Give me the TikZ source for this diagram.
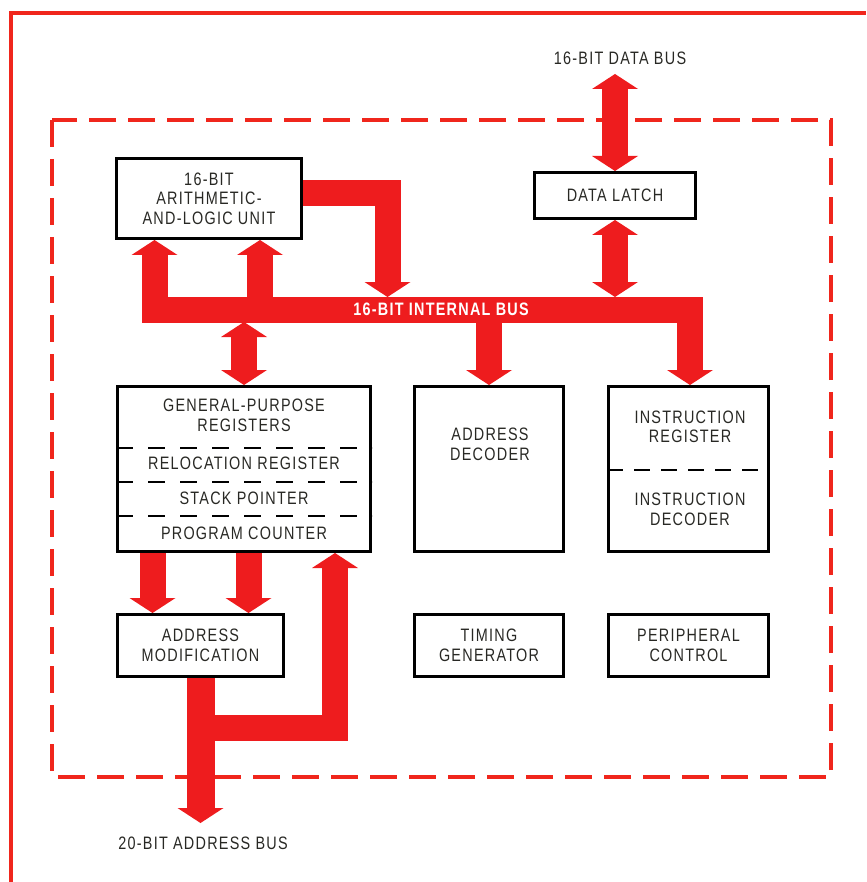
\documentclass[tikz,border=0pt]{standalone}
\usepackage{fontspec}
\setmainfont{Liberation Sans}[FakeStretch=0.8, LetterSpace=7]
\usetikzlibrary{arrows.meta,backgrounds}
\definecolor{busred}{RGB}{238,28,30}
\definecolor{framered}{RGB}{240,38,28}
\definecolor{ink}{RGB}{40,40,36}
\newcommand\lblfont{\fontsize{18}{19.5}\selectfont}

\begin{document}
\begin{tikzpicture}[x=1pt,y=-1pt,
  box/.style={draw=black, line width=3pt, inner sep=0pt, text=ink, align=center, font=\lblfont},
  lbl/.style={inner sep=0pt, text=ink, align=center, font=\lblfont},
  buslabel/.style={inner sep=0pt, text=white, font=\lblfont\bfseries},
  fat/.style={draw=busred, line width=26pt, line join=miter,
    >={Triangle[length=15pt,width=46pt,line width=0pt]}},
  divider/.style={draw=black, line width=2.5pt, dash pattern=on 17pt off 15pt},
  outerframe/.style={draw=framered, line width=4pt},
  chipframe/.style={draw=framered, line width=3.5pt, dash pattern=on 27pt off 12pt}]

\useasboundingbox (0,0) rectangle (866,882);

% functional blocks
\node[box, minimum width=185pt, minimum height=80pt] (alu) at (209,198.5)
  {16-BIT\\ARITHMETIC-\\AND-LOGIC UNIT};
\node[box, minimum width=161pt, minimum height=46pt] (latch) at (615,195.5) {DATA LATCH};
\node[box, minimum width=253pt, minimum height=165pt] (gpr) at (244,469) {};
\node[box, minimum width=149pt, minimum height=165pt] (addrdec) at (489,469) {};
\node[box, minimum width=160pt, minimum height=165pt] (instr) at (688.5,469) {};
\node[box, minimum width=166pt, minimum height=62pt] (addrmod) at (200.5,645.5)
  {ADDRESS\\MODIFICATION};
\node[box, minimum width=149pt, minimum height=62pt] (timing) at (489,645.5)
  {TIMING\\GENERATOR};
\node[box, minimum width=160pt, minimum height=62pt] (periph) at (688.5,645.5)
  {PERIPHERAL\\CONTROL};

% register file sections
\draw[divider] (gpr.west |- 0,448) -- (gpr.east |- 0,448);
\draw[divider] (gpr.west |- 0,482) -- (gpr.east |- 0,482);
\draw[divider] (gpr.west |- 0,516) -- (gpr.east |- 0,516);
\node[lbl] (gprtxt) at (244,415.5) {GENERAL-PURPOSE\\REGISTERS};
\node[lbl] (reloc) at (244,463.5) {RELOCATION REGISTER};
\node[lbl] (sp) at (244,498.5) {STACK POINTER};
\node[lbl] (pc) at (244,533) {PROGRAM COUNTER};

\node[lbl] (adtxt) at (490,444.5) {ADDRESS\\DECODER};

\draw[divider, dash pattern=on 16pt off 11pt] (instr.west |- 0,470) -- (instr.east |- 0,470);
\node[lbl] (irtxt) at (690,427) {INSTRUCTION\\REGISTER};
\node[lbl] (idtxt) at (690,509.5) {INSTRUCTION\\DECODER};

% external bus labels
\node[lbl] (dbus) at (620,58) {16-BIT DATA BUS};
\node[lbl] (abuslbl) at (203,843) {20-BIT ADDRESS BUS};

% bus geometry
\coordinate (bus-w) at (154.5,309.5);
\coordinate (bus-e) at (690,309.5);
\coordinate (dtip) at (615,74);
\coordinate (atip) at (200.5,823);

% page frame, chip outline and buses, all beneath the blocks
\begin{scope}[on background layer]
\draw[outerframe] (11,882) -- (11,13) -- (866,13);
\draw[chipframe] (52,120) rectangle (831,777);

\draw[fat,<->] (dtip) -- (latch.north);
\draw[fat,<->] (latch.south) -- (615,297);
\draw[fat,<->] (alu.south -| bus-w) -- (bus-w) -- (bus-e) -- (instr.north -| bus-e);
\draw[fat,->] (260,0 |- bus-w) -- (260,0 |- alu.south);
\draw[fat,->] ([yshift=5pt]alu.east) -- (387.5,193.5) -- (387.5,297);
\draw[fat,<->] (244,322) -- (gpr.north);
\draw[fat,->] (addrdec.north |- bus-w) -- (addrdec.north);
\draw[fat,->] (152.5,0 |- gpr.south) -- (152.5,0 |- addrmod.north);
\draw[fat,->] (248.5,0 |- gpr.south) -- (248.5,0 |- addrmod.north);
\draw[fat,->,line width=28pt] (addrmod.south) -- (atip);
\draw[fat,->] (202,727.5) -- (335,727.5) -- (335,0 |- gpr.south);
\end{scope}

\node[buslabel] (buslbl) at (441,309.5) {16-BIT INTERNAL BUS};
\end{tikzpicture}
\end{document}
